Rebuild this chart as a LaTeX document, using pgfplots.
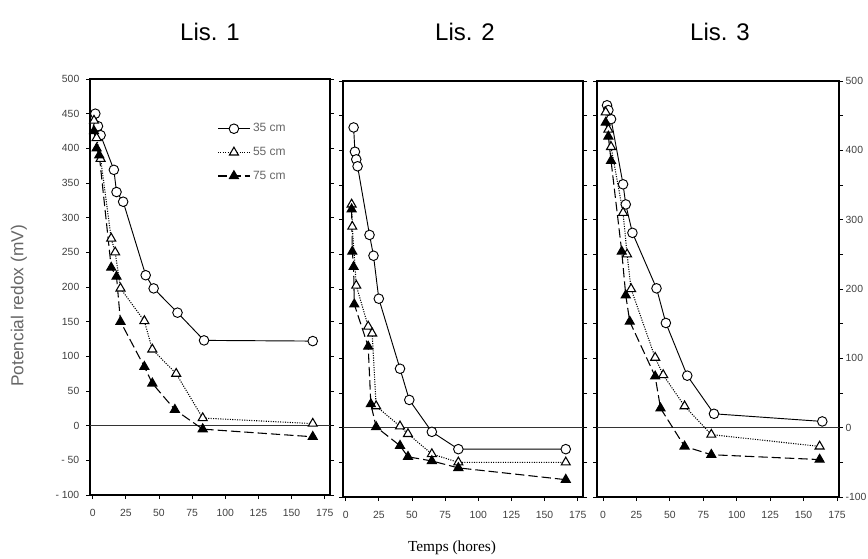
\documentclass[border=0pt]{standalone}
\usepackage{pgfplots}
\pgfplotsset{compat=1.18}
\usepackage{fontspec}
\setmainfont{Liberation Sans}
\newfontfamily\seriffont{Liberation Serif}
\begin{document}
\begin{tikzpicture}
\useasboundingbox (0,0) rectangle (651pt,418.5pt);
\pgfplotsset{
  every axis/.append style={
    scale only axis, width=180pt, height=312pt,
    xmin=-2, xmax=179, ymin=-100, ymax=500,
    axis line style={line width=0.9pt},
    tick align=outside, major tick length=3pt, minor tick length=3pt,
    tick style={black, line width=0.6pt},
    xtick={0,25,...,175}, xtick pos=left,
    ticklabel style={font=\fontsize{7.8}{9}\selectfont, text=black!75},
    xticklabel style={yshift=-4pt},
    /pgf/number format/assume math mode=true,
  },
  s35/.style={black, line width=0.7pt, mark=*, mark size=3.6pt, mark options={solid, fill=white, draw=black}},
  s55/.style={black, line width=0.8pt, densely dotted, mark=triangle*, mark size=3.9pt, mark options={solid, fill=white, draw=black}},
  s75/.style={black, line width=0.8pt, dash pattern=on 7pt off 3pt, mark=triangle*, mark size=3.9pt, mark options={solid, fill=black}},
  zl/.style={black!80, line width=0.6pt, forget plot},
}
% Panel 1
\begin{axis}[at={(67.5pt,47.25pt)}, anchor=south west,
  ytick={-100,-50,...,500}, ytick pos=both,
  yticklabels={- 100,- 50,0,50,100,150,200,250,300,350,400,450,500},
  yticklabel style={xshift=-1.5pt},
  legend style={at={(0.53,0.90)}, anchor=north west, draw=none, fill=none,
    inner sep=0pt, font=\fontsize{9}{10}\selectfont, text=black!60, row sep=6pt},
  legend cell align=left,
  legend image code/.code={\draw[mark repeat=2,mark phase=2] plot coordinates {(0cm,0cm)(0.42cm,0cm)(0.84cm,0cm)};},
]
\addplot[zl] coordinates {(-10,0)(200,0)};
\addplot[s35] coordinates {(2,450)(4,432)(6,419)(16,369)(18,337)(23,323)(40,217)(46,198)(64,163)(84,123)(166,122)};
\addplot[s55] coordinates {(1,440)(3,415)(6,385)(14,270)(17,250)(21,198)(39,151)(45,110)(63,75)(83,11)(166,3)};
\addplot[s75] coordinates {(1,425)(3,400)(5,390)(14,228)(18,215)(21,150)(39,85)(45,61)(62,23)(83,-5)(166,-16)};
\legend{35 cm, 55 cm, 75 cm}
\end{axis}
% Panel 2
\begin{axis}[at={(257.25pt,45.75pt)}, anchor=south west,
  ytick={-100,-50,...,500}, ytick pos=both, yticklabels={},
]
\addplot[zl] coordinates {(-10,0)(200,0)};
\addplot[s35] coordinates {(6,433)(7,398)(8,387)(9,377)(18,278)(21,248)(25,186)(41,85)(48,40)(65,-6)(85,-31)(166,-31)};
\addplot[s55] coordinates {(4.5,322)(5,290)(8,205)(17,146)(20,136)(23,31)(41,2)(47,-9)(65,-38)(85,-50)(166,-50)};
\addplot[s75] coordinates {(4.5,315)(5,254)(6,232)(6.5,178)(17,117)(19,34)(23,1)(41,-26)(47,-42)(65,-48)(85,-58)(166,-75)};
\end{axis}
% Panel 3
\begin{axis}[at={(447.75pt,45.75pt)}, anchor=south west, width=181.5pt, xmin=-4.5, xmax=176.5,
  ytick={-100,0,...,500}, minor ytick={-50,50,...,450}, ytick pos=both, yticklabel pos=right,
  yticklabels={-100,0,100,200,300,400,500},
  yticklabel style={xshift=-1.5pt},
]
\addplot[zl] coordinates {(-10,0)(200,0)};
\addplot[s35] coordinates {(3,465)(4,458)(6,445)(15,351)(17,322)(22,281)(40,201)(47,151)(63,75)(83,20)(164,9)};
\addplot[s55] coordinates {(2,455)(4,430)(6,405)(15,310)(18,250)(21,200)(39,101)(45,76)(61,31)(81,-10)(162,-27)};
\addplot[s75] coordinates {(2,440)(4,420)(6,385)(14,254)(17,191)(20,153)(39,74)(43,28)(61,-27)(81,-39)(162,-46)};
\end{axis}
% Titles and labels
\node[font=\fontsize{18}{20}\selectfont] at (157.5pt,394.5pt) {Lis. 1};
\node[font=\fontsize{18}{20}\selectfont] at (348.75pt,394.5pt) {Lis. 2};
\node[font=\fontsize{18}{20}\selectfont] at (540pt,394.5pt) {Lis. 3};
\node[rotate=90, font=\fontsize{13}{15}\selectfont, text=black!60] at (14.25pt,189pt) {Potencial redox (mV)};
\node[font=\seriffont\fontsize{11.5}{13}\selectfont] at (339pt,7.5pt) {Temps (hores)};
\end{tikzpicture}
\end{document}
